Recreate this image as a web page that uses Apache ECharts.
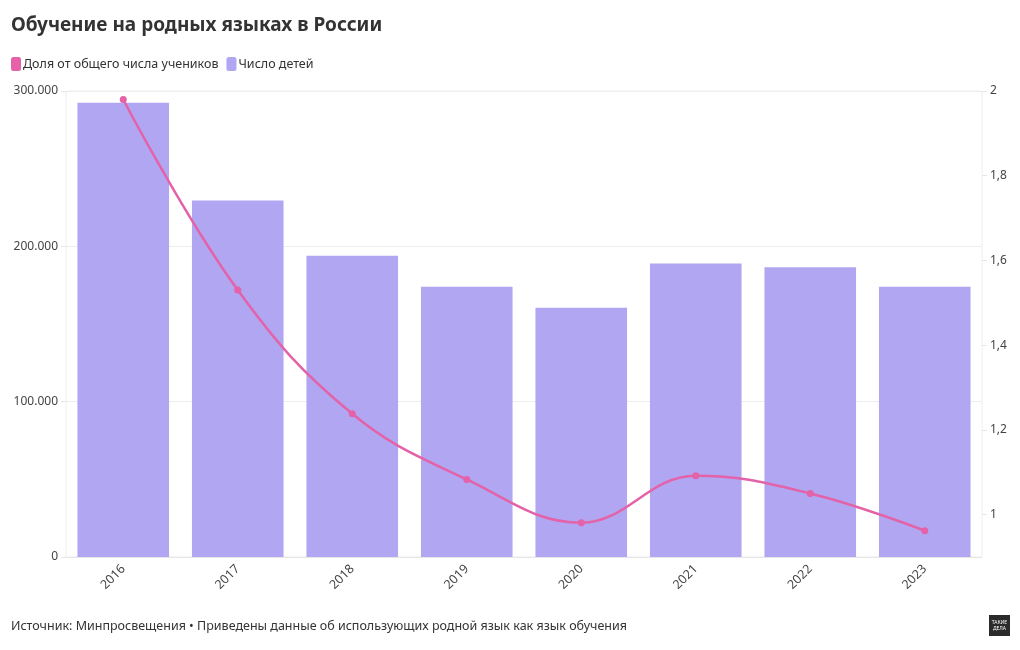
<!DOCTYPE html>
<html>
<head>
<meta charset="utf-8">
<script src="https://cdn.jsdelivr.net/npm/echarts@6/dist/echarts.min.js"></script>
<style>
  html, body { margin: 0; padding: 0; background: #fff; }
  #chart { width: 1020px; height: 650px; }
</style>
</head>
<body>
<div id="chart"></div>
<script>
// данные
const years = ['2016', '2017', '2018', '2019', '2020', '2021', '2022', '2023'];
const children = [292500, 229500, 194000, 174000, 160500, 189000, 186500, 174000];
const share = [1.98, 1.53, 1.238, 1.083, 0.981, 1.092, 1.05, 0.962];
const shareTicks = [1, 1.2, 1.4, 1.6, 1.8, 2];

const font = '"Noto Sans", sans-serif';
const barColor = '#b0a6f2';
const lineColor = '#e462a8';

let chart = echarts.init(document.getElementById('chart'));

chart.setOption({
  animation: false,
  textStyle: { fontFamily: font },
  title: {
    text: 'Обучение на родных языках в России',
    left: 6, top: 11,
    textStyle: { fontSize: 19, fontWeight: 'bold', color: '#333', fontFamily: font }
  },
  legend: {
    left: 6, top: 52,
    itemWidth: 10, itemHeight: 14, itemGap: 8,
    icon: 'roundRect',
    textStyle: { fontSize: 12.5, color: '#333', padding: [0, 0, 0, -3] },
    data: ['Доля от общего числа учеников', 'Число детей']
  },
  grid: {
    left: 66, right: 38, top: 91, bottom: 93,
    show: true, borderColor: '#eeeeee', borderWidth: 1
  },
  xAxis: {
    type: 'category',
    data: years,
    axisLine: { lineStyle: { color: '#e6e6e6' } },
    axisTick: { alignWithLabel: true, length: 5, lineStyle: { color: '#e6e6e6' } },
    axisLabel: { rotate: 45, fontSize: 12.5, color: '#444', margin: 10 }
  },
  yAxis: [{
    type: 'value',
    min: 0, max: 300000, interval: 100000,
    axisLine: { show: false },
    axisTick: { show: true, length: 5, lineStyle: { color: '#e6e6e6' } },
    splitLine: { lineStyle: { color: '#eeeeee' } },
    axisLabel: {
      fontSize: 12, color: '#444', margin: 8,
      formatter: v => v === 0 ? '0' : String(v).replace(/\B(?=(\d{3})+(?!\d))/g, '.')
    }
  }, {
    type: 'value',
    min: 0.9, max: 2,
    axisLine: { show: false },
    axisTick: { show: true, length: 5, customValues: shareTicks, lineStyle: { color: '#e6e6e6' } },
    splitLine: { show: false },
    axisLabel: {
      fontSize: 12, color: '#444', margin: 8,
      customValues: shareTicks,
      formatter: v => String(Math.round(v * 10) / 10).replace('.', ',')
    }
  }],
  series: [{
    name: 'Число детей',
    type: 'bar',
    yAxisIndex: 0,
    data: children,
    barWidth: '80%',
    itemStyle: { color: barColor }
  }, {
    name: 'Доля от общего числа учеников',
    type: 'line',
    yAxisIndex: 1,
    data: share,
    smooth: 0.4,
    symbol: 'circle',
    symbolSize: 7,
    lineStyle: { color: lineColor, width: 2.5 },
    itemStyle: { color: lineColor },
    z: 5
  }],
  graphic: [{
    type: 'text',
    left: 11, top: 620,
    style: {
      text: 'Источник: Минпросвещения • Приведены данные об использующих родной язык как язык обучения',
      font: '12.5px "Noto Sans", sans-serif',
      fill: '#333'
    }
  }, {
    type: 'group',
    left: 989, top: 615,
    children: [{
      type: 'rect',
      shape: { x: 0, y: 0, width: 21, height: 21 },
      style: { fill: '#2b2b2b' }
    }, {
      type: 'text',
      x: 10.5, y: 5,
      style: { text: 'ТАКИЕ\nДЕЛА', font: '5px "Noto Sans", sans-serif', fill: '#fff', align: 'center', lineHeight: 6 }
    }]
  }]
});
</script>
</body>
</html>
